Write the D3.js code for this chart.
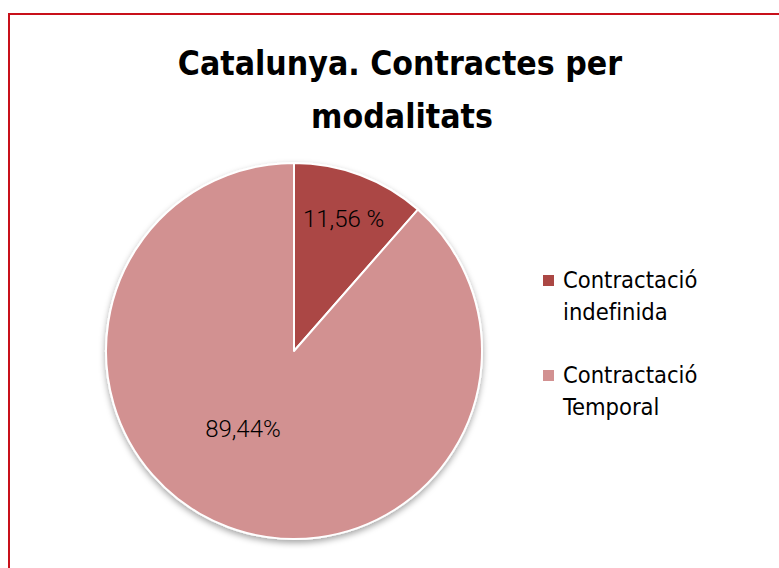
<!DOCTYPE html>
<html lang="ca">
<head>
<meta charset="UTF-8" />
<title>Catalunya. Contractes per modalitats</title>
<script src="https://d3js.org/d3.v7.min.js"></script>
<style>
    body { margin: 0; padding: 0; background: #ffffff; }
    .title { font-family: "DejaVu Sans Condensed", "DejaVu Sans", sans-serif; font-weight: bold; font-size: 33.5px; fill: #000; }
    .legend text { font-family: "DejaVu Sans Condensed", "DejaVu Sans", sans-serif; font-size: 23.5px; fill: #000; }
    .slice-label { font-family: Roboto, Arial, sans-serif; font-weight: 300; font-size: 24px; fill: #000; }
</style>
</head>
<body>
<svg id="chart" width="779" height="568"></svg>
<script>
    // data
    const categories = ["Contractació indefinida", "Contractació Temporal"];
    const values = [11.56, 89.44];
    const valueLabels = ["11,56 %", "89,44%"];
    const colors = ["#ab4744", "#d29191"];

    const svg = d3.select("#chart");

    // chart frame (runs off right & bottom edge)
    svg.append("rect")
        .attr("x", 9).attr("y", 14)
        .attr("width", 820).attr("height", 620)
        .attr("fill", "#fff")
        .attr("stroke", "#c8101a")
        .attr("stroke-width", 2);

    // title
    const title = svg.append("text").attr("class", "title").attr("text-anchor", "middle");
    title.append("tspan").attr("x", 400).attr("y", 75).text("Catalunya. Contractes per");
    title.append("tspan").attr("x", 402).attr("y", 128).text("modalitats");

    // shadow
    const defs = svg.append("defs");
    const f = defs.append("filter").attr("id", "shadow")
        .attr("x", "-20%").attr("y", "-20%").attr("width", "140%").attr("height", "140%");
    f.append("feDropShadow").attr("dx", 0).attr("dy", 3).attr("stdDeviation", 3)
        .attr("flood-color", "#000").attr("flood-opacity", 0.35);

    const cx = 294, cy = 351, r = 188;
    const pie = d3.pie().sort(null).value(d => d);
    const arcs = pie(values);
    const arc = d3.arc().innerRadius(0).outerRadius(r);

    const g = svg.append("g").attr("transform", `translate(${cx},${cy})`);
    g.append("g").attr("filter", "url(#shadow)")
        .selectAll("path")
        .data(arcs)
        .enter().append("path")
        .attr("d", arc)
        .attr("fill", (d, i) => colors[i])
        .attr("stroke", "#fff")
        .attr("stroke-width", 2)
        .attr("stroke-linejoin", "round");

    // slice labels: radius factor per slice, slight nudge for the big one
    const labelRadius = [0.75, 0.5];
    const labelNudge = [[0, 0], [-18, -10]];
    g.selectAll(".slice-label")
        .data(arcs)
        .enter().append("text")
        .attr("class", "slice-label")
        .attr("text-anchor", "middle")
        .attr("dy", "0.35em")
        .attr("transform", (d, i) => {
            const a = (d.startAngle + d.endAngle) / 2;
            const rr = r * labelRadius[i];
            return `translate(${Math.sin(a) * rr + labelNudge[i][0]},${-Math.cos(a) * rr + labelNudge[i][1]})`;
        })
        .text((d, i) => valueLabels[i]);

    // legend
    const legend = svg.append("g").attr("class", "legend").attr("transform", "translate(543,275)");
    const item = legend.selectAll("g")
        .data(categories)
        .enter().append("g")
        .attr("transform", (d, i) => `translate(0,${i * 95})`);
    item.append("rect")
        .attr("width", 11).attr("height", 11)
        .attr("fill", (d, i) => colors[i]);
    item.append("text")
        .attr("x", 20)
        .attr("y", 13)
        .each(function (d) {
            const parts = d.split(" ");
            const t = d3.select(this);
            parts.forEach((p, j) => t.append("tspan").attr("x", 20).attr("dy", j ? 32 : 0).text(p));
        });
</script>
</body>
</html>
